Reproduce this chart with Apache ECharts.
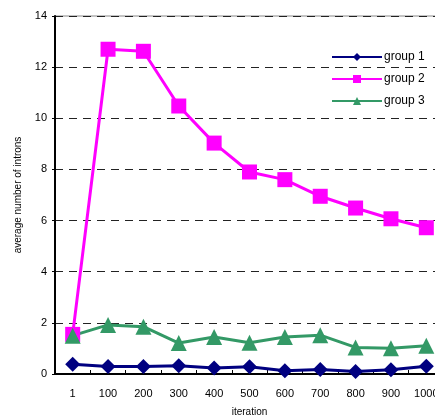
<!DOCTYPE html>
<html><head><meta charset="utf-8">
<script src="https://cdn.jsdelivr.net/npm/echarts@6/dist/echarts.min.js"></script>
<style>html,body{margin:0;padding:0;background:#fff}#c{width:435px;height:419px}</style>
</head><body><div id="c"></div>
<script>
const categories = ['1','100','200','300','400','500','600','700','800','900','1000'];
const group1 = [0.38,0.29,0.29,0.32,0.23,0.28,0.13,0.18,0.10,0.17,0.30];
const group2 = [1.55,12.7,12.62,10.48,9.03,7.9,7.6,6.95,6.49,6.07,5.72];
const group3 = [1.5,1.92,1.85,1.21,1.45,1.22,1.45,1.52,1.04,1.01,1.1];
const yTicks = [0,2,4,6,8,10,12,14];

const font = 'Liberation Sans, Arial, sans-serif';
const chart = echarts.init(document.getElementById('c'));
chart.setOption({
  animation:false,
  grid:{left:55,top:16,right:-9,bottom:45,outerBoundsMode:'none',containLabel:false,show:true,borderColor:'#888',borderWidth:1,backgroundColor:'transparent'},
  legend:{
    orient:'vertical', left:326, top:46, itemWidth:50, itemHeight:10, itemGap:10,
    textStyle:{fontFamily:font,fontSize:12,color:'#000',padding:[0,0,0,-3]},
    data:['group 1','group 2','group 3']
  },
  xAxis:{
    type:'category', data:categories, boundaryGap:true,
    name:'iteration', nameLocation:'middle', nameGap:33,
    nameTextStyle:{fontFamily:font,fontSize:10,color:'#000'},
    axisLine:{lineStyle:{color:'#000',width:2}},
    axisTick:{show:true,inside:true,length:4,lineStyle:{color:'#000'}},
    axisLabel:{fontFamily:font,fontSize:11,color:'#000',margin:14},
    splitLine:{show:false}
  },
  yAxis:{
    type:'value', min:0, max:14, interval:2,
    name:'average number of introns', nameLocation:'middle', nameGap:32,
    nameTextStyle:{fontFamily:font,fontSize:10,color:'#000'},
    axisLine:{show:true,lineStyle:{color:'#000',width:2}},
    axisTick:{show:true,length:3,lineStyle:{color:'#000'}},
    axisLabel:{fontFamily:font,fontSize:11,color:'#000',margin:8,formatter:v=>yTicks.includes(v)?String(v):''},
    splitLine:{show:true,lineStyle:{color:'#222',type:[8,6],width:1}}
  },
  series:[
    {name:'group 1',type:'line',data:group1,symbol:'diamond',symbolSize:15,
     itemStyle:{color:'#000080'},lineStyle:{color:'#000080',width:3}},
    {name:'group 2',type:'line',data:group2,symbol:'rect',symbolSize:15,
     itemStyle:{color:'#FF00FF'},lineStyle:{color:'#FF00FF',width:3}},
    {name:'group 3',type:'line',data:group3,symbol:'triangle',symbolSize:16,
     itemStyle:{color:'#339966'},lineStyle:{color:'#339966',width:3}}
  ]
});
</script></body></html>
